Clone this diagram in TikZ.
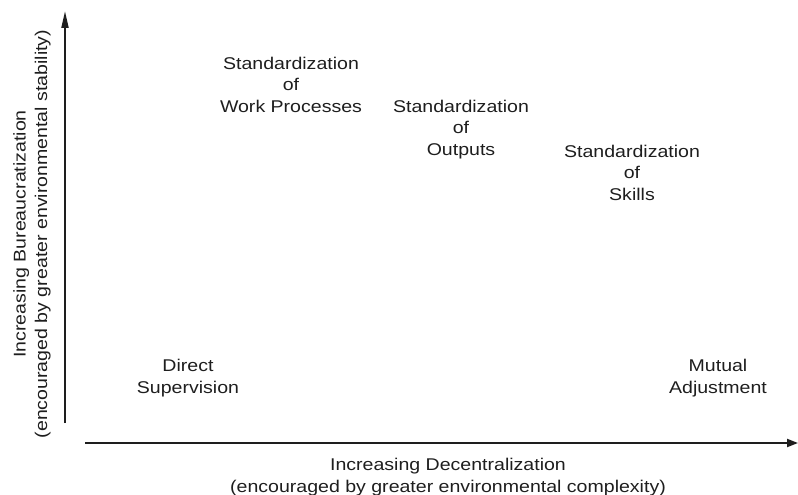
\documentclass[tikz,border=0pt]{standalone}
\usepackage{fontspec}
\setmainfont[FakeStretch=1.15]{Liberation Sans}
\usetikzlibrary{arrows.meta}
\definecolor{ink}{HTML}{1E1E1E}
\tikzset{
  lbl/.style={font=\fontsize{17}{21.3}\selectfont, text=ink, inner sep=0pt, align=center, anchor=base},
  axis/.style={draw=ink, line width=2pt}
}
\begin{document}
\begin{tikzpicture}[x=1pt,y=-1pt]
\useasboundingbox (0,0) rectangle (798,495);
% axes
\coordinate (yb) at (65,423);
\coordinate (yt) at (65,11);
\coordinate (xl) at (85,443);
\coordinate (xr) at (798,443);
\draw[axis, -{Triangle[length=17pt,width=7pt]}] (yb) -- (yt);
\draw[axis, -{Triangle[length=11pt,width=8pt]}] (xl) -- (xr);
% labels (anchor base = baseline of last line)
\node[lbl] (wp) at (291,112) {Standardization\\of\\Work Processes};
\node[lbl] (out) at (461,155) {Standardization\\of\\Outputs};
\node[lbl] (sk) at (632,200) {Standardization\\of\\Skills};
\node[lbl] (ds) at (188,393) {Direct\\Supervision};
\node[lbl] (ma) at (718,393) {Mutual\\Adjustment};
\node[lbl] (xlab) at (448,492) {Increasing Decentralization\\(encouraged by greater environmental complexity)};
\node[lbl, anchor=center, rotate=90] (ylab) at (32,234) {Increasing Bureaucratization\\(encouraged by greater environmental stability)};
\end{tikzpicture}
\end{document}
